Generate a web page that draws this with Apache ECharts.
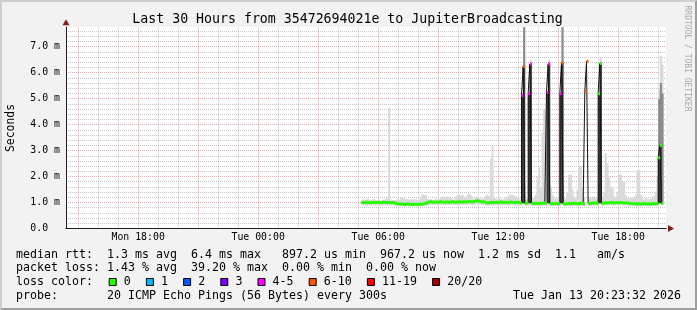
<!DOCTYPE html>
<html><head><meta charset="utf-8">
<script src="https://cdn.jsdelivr.net/npm/echarts@6/dist/echarts.min.js"></script>
<style>
html,body{margin:0;padding:0;background:#f2f2f2;}
#wrap{position:relative;width:697px;height:310px;}
#c{width:697px;height:310px;}
#frame{position:absolute;left:0;top:0;width:697px;height:310px;box-sizing:border-box;border:2px solid;border-color:#cfcfcf #9e9e9e #9e9e9e #cfcfcf;pointer-events:none;}
</style></head><body>
<div id="wrap"><div id="c"></div><div id="frame"></div></div>
<script>
// ---- time frame (hours since Mon 00:00) ----
const viewStart = 14 + 23/60 + 32/3600;   // Mon 14:23:32
const viewEnd = viewStart + 30;           // Tue 20:23:32
const startHour = 29 + 10/60;             // first sample Tue 05:10
const stepHours = 5/60;                   // 300 s step

const xTickHours = [18, 24, 30, 36, 42];
const xTickLabels = ['Mon 18:00', 'Tue 00:00', 'Tue 06:00', 'Tue 12:00', 'Tue 18:00'];

// ---- median rtt per step (ms) ----
const median = [
1.00,1.00,1.01,1.00,1.00,0.99,1.00,1.01,1.00,1.00,
1.00,0.99,1.00,1.01,1.00,1.00,1.00,0.99,1.00,1.00,
0.97,0.95,0.94,0.93,0.95,0.92,0.93,0.94,0.93,0.92,
0.93,0.92,0.93,0.92,0.93,0.94,0.93,0.95,0.97,1.00,
1.02,1.03,1.02,1.01,1.02,1.01,1.02,1.03,1.02,1.01,
1.02,1.02,1.01,1.02,1.03,1.02,1.01,1.02,1.03,1.02,
1.02,1.03,1.02,1.03,1.04,1.03,1.02,1.04,1.06,1.07,
1.05,1.04,1.02,1.03,1.00,0.98,0.99,1.00,1.01,1.00,
1.01,1.00,1.01,1.02,1.01,1.00,1.01,1.00,1.01,1.02,
1.01,1.00,1.00,1.01,1.00,0.99,5.12,6.24,0.97,0.98,
5.19,6.33,0.97,0.96,0.97,0.96,0.97,0.96,0.97,0.98,
0.97,5.24,6.33,0.95,0.96,0.95,0.96,0.95,0.96,5.19,
6.37,0.95,0.94,0.95,0.96,0.95,0.96,0.97,0.96,0.95,
0.96,0.97,0.96,0.95,5.28,6.44,0.96,0.97,0.98,0.97,
0.98,0.97,5.19,6.35,0.97,0.98,0.99,0.98,0.99,1.00,
0.99,0.98,0.99,1.00,0.99,1.00,0.99,0.98,0.99,0.98,
0.97,0.96,0.95,0.96,0.95,0.94,0.95,0.94,0.95,0.96,
0.95,0.94,0.95,0.94,0.95,0.96,0.95,0.96,2.72,3.20,
0.97];

// ---- fastest / slowest ping per step (ms) ----
const pingMin = [
0.89,0.90,0.89,0.88,0.90,0.89,0.90,0.89,0.88,0.90,
0.89,0.90,0.89,0.90,0.88,0.89,0.90,0.89,0.90,0.89,
0.88,0.87,0.86,0.86,0.87,0.85,0.86,0.86,0.85,0.86,
0.85,0.86,0.85,0.86,0.86,0.87,0.86,0.87,0.88,0.89,
0.90,0.91,0.90,0.90,0.91,0.90,0.91,0.90,0.91,0.90,
0.91,0.90,0.90,0.91,0.90,0.91,0.90,0.91,0.90,0.91,
0.90,0.91,0.90,0.91,0.92,0.91,0.90,0.91,0.92,0.93,
0.92,0.91,0.90,0.91,0.89,0.88,0.89,0.89,0.90,0.89,
0.90,0.89,0.90,0.90,0.89,0.90,0.89,0.90,0.89,0.90,
0.90,0.89,0.89,0.90,0.89,0.88,0.95,0.95,0.88,0.88,
0.95,0.95,0.88,0.87,0.88,0.87,0.88,0.87,0.88,0.88,
0.88,0.95,0.95,0.86,0.87,0.86,0.87,0.86,0.87,0.95,
0.95,0.86,0.86,0.86,0.87,0.86,0.87,0.88,0.87,0.86,
0.87,0.88,0.87,0.86,5.28,6.44,0.87,0.88,0.89,0.88,
0.89,0.88,0.95,0.95,0.88,0.89,0.90,0.89,0.90,0.90,
0.90,0.89,0.90,0.90,0.90,0.90,0.90,0.89,0.90,0.89,
0.88,0.87,0.86,0.87,0.86,0.85,0.86,0.85,0.86,0.87,
0.86,0.85,0.86,0.85,0.86,0.87,0.86,0.87,0.95,0.95,
0.90];

const pingMax = [
1.12,1.14,1.10,1.15,1.13,1.10,1.12,1.14,1.10,1.09,
1.11,1.08,1.10,1.12,1.15,1.20,4.65,1.12,1.10,1.08,
1.10,1.15,1.12,1.18,1.19,1.16,1.12,1.14,1.10,1.12,
1.14,1.12,1.13,1.10,1.12,1.20,1.31,1.28,1.31,1.15,
1.12,1.14,1.10,1.12,1.15,1.12,1.14,1.20,1.24,1.22,
1.18,1.24,1.20,1.16,1.14,1.12,1.22,1.28,1.31,1.25,
1.30,1.22,1.18,1.30,1.35,1.28,1.16,1.14,1.20,1.22,
1.18,1.15,1.14,1.18,1.26,1.30,1.24,2.70,3.17,1.20,
1.15,1.12,1.18,1.14,1.12,1.15,1.20,1.22,1.28,1.30,
1.30,1.26,1.24,1.18,1.15,1.12,5.20,7.80,1.12,1.15,
5.25,6.50,1.15,1.18,1.30,2.00,2.35,1.60,3.70,4.58,
4.58,5.30,6.50,1.60,1.30,1.20,1.15,1.18,1.22,5.25,
7.80,1.20,1.15,1.40,2.08,2.08,1.50,1.20,1.18,1.50,
2.40,2.40,1.60,1.20,5.28,6.44,1.20,1.15,1.18,1.22,
1.15,1.20,5.25,6.55,1.20,1.40,2.90,2.50,1.95,1.60,
1.55,1.25,1.18,1.40,2.08,2.08,1.80,1.80,1.30,1.18,
1.15,1.20,1.14,1.18,1.30,2.24,2.24,1.30,1.15,1.12,
1.18,1.14,1.12,1.15,1.20,1.25,1.40,2.00,5.30,6.65,
6.30];

// dense smoke [step, low ms, high ms]
const midSmoke = [[97,6.24,7.80],[120,6.37,7.80],[178,2.72,5.00],[179,3.20,5.60],[180,1.02,5.20]];
const darkSmoke = [[96,0.97,5.12],[97,0.97,6.24],[100,0.97,5.19],[101,0.97,6.33],
  [111,0.97,5.24],[112,0.97,6.33],[119,0.97,5.19],[120,0.97,6.37],
  [142,0.97,5.19],[143,0.97,6.35],[178,0.97,2.72],[179,0.97,3.20]];

// lost pings (out of 20) per step, all other steps 0
const lossEvents = [[96,4],[97,8],[100,5],[101,5],[111,4],[112,5],[119,5],[120,7],[134,6],[135,7]];

const lossCats = [
  {name:'0', lo:0, hi:0, color:'#26ff00'},
  {name:'1', lo:1, hi:1, color:'#00b8ff'},
  {name:'2', lo:2, hi:2, color:'#0059ff'},
  {name:'3', lo:3, hi:3, color:'#7e00ff'},
  {name:'4-5', lo:4, hi:5, color:'#ff00ff'},
  {name:'6-10', lo:6, hi:10, color:'#ff5500'},
  {name:'11-19', lo:11, hi:19, color:'#ff0000'},
  {name:'20/20', lo:20, hi:20, color:'#a10000'}
];

const titleText = 'Last 30 Hours from 35472694021e to JupiterBroadcasting';
const legendRows = [
  'median rtt:  1.3 ms avg  6.4 ms max   897.2 us min  967.2 us now  1.2 ms sd  1.1   am/s',
  'packet loss: 1.43 % avg  39.20 % max  0.00 % min  0.00 % now',
  'loss color:',
  'probe:       20 ICMP Echo Pings (56 Bytes) every 300s'
];
const stampText = 'Tue Jan 13 20:23:32 2026';

// ---------------------------------------------------------------
const N = median.length;
const t = i => startHour + i * stepHours;
const MONO = '"DejaVu Sans Mono", monospace';

const lossAt = new Array(N).fill(0);
lossEvents.forEach(([i, n]) => { lossAt[i] = n; });
const catOf = n => lossCats.findIndex(c => n >= c.lo && n <= c.hi);

function renderBand(params, api) {
  const a = api.coord([api.value(0), api.value(3)]);
  const b = api.coord([api.value(1), api.value(2)]);
  return {type:'rect', shape:{x:a[0], y:a[1], width:b[0]-a[0]+0.4, height:b[1]-a[1]},
          style:{fill: api.visual('color')}};
}
function bandSeries(name, data, color, z) {
  return {type:'custom', name, data, z, clip:true, silent:true, animation:false,
          itemStyle:{color}, encode:{x:[0,1], y:[2,2]}, renderItem: renderBand};
}
function renderLoss(params, api) {
  const p0 = api.coord([api.value(0), api.value(2)]);
  const p1 = api.coord([api.value(1), api.value(2)]);
  return {type:'line', shape:{x1:p0[0], y1:p0[1], x2:p1[0]+0.3, y2:p1[1]},
          style:{stroke: api.visual('color'), lineWidth:3, fill:null, lineCap:'butt'}};
}

const lightData = median.map((_, i) => [t(i), t(i+1), pingMin[i], pingMax[i]]);
const midData = midSmoke.map(([i, lo, hi]) => [t(i), t(i+1), lo, hi]);
const darkData = darkSmoke.map(([i, lo, hi]) => [t(i), t(i+1), lo, hi]);

const medianLine = median.map((v, i) => [t(i), v]);
medianLine.push([t(N), median[N-1]]);

const lossSeries = lossCats.map((c, ci) => {
  const data = [];
  for (let i = 0; i < N; i++) {
    if (catOf(lossAt[i]) === ci) data.push([t(i), t(i+1), median[i]]);
  }
  return {type:'custom', name:c.name, data, z:5, clip:true, silent:true, animation:false,
          itemStyle:{color:c.color}, encode:{x:[0,1], y:2}, renderItem: renderLoss};
});

// grid lines
const minorGrid = 'rgba(143,143,143,0.5)';
const majorGrid = 'rgba(222,79,79,0.5)';
const gridLines = [];
for (let h = Math.ceil(viewStart); h <= Math.floor(viewEnd); h++) {
  gridLines.push({xAxis:h, lineStyle:{color: h % 3 === 0 ? majorGrid : minorGrid, type:[1,1], width:1}});
}
for (let k = 1; k <= 38; k++) {
  gridLines.push({yAxis:k/5, lineStyle:{color: k % 5 === 0 ? majorGrid : minorGrid, type:[1,1], width:1}});
}

const axisFont = {fontFamily: MONO, fontSize: 9.85, color:'#000'};
const labelFor = v => {
  const i = xTickHours.findIndex(h => Math.abs(h - v) < 1e-6);
  return i >= 0 ? xTickLabels[i] : '';
};

const chart = echarts.init(document.getElementById('c'), null, {width:697, height:310});
chart.setOption({
  animation:false,
  backgroundColor:'#f2f2f2',
  grid:{left:66, top:27.2, width:600, height:201.3, show:true, backgroundColor:'#ffffff', borderWidth:0},
  xAxis:[
    {type:'value', min:viewStart, max:viewEnd, position:'bottom', z:10,
     axisLine:{show:true, onZero:false, lineStyle:{color:'#1f1f1f', width:1}},
     axisTick:{show:false}, splitLine:{show:false},
     axisLabel:Object.assign({customValues:xTickHours, formatter:labelFor, margin:4}, axisFont)},
    {type:'value', min:viewStart, max:viewEnd, position:'bottom', z:9,
     axisLine:{show:true, onZero:false, symbol:['none','triangle'], symbolSize:[7,6], symbolOffset:[0,5],
               lineStyle:{color:'#801f1f', width:1}},
     axisTick:{show:false}, axisLabel:{show:false}, splitLine:{show:false}}
  ],
  yAxis:[
    {type:'value', min:0, max:7.75, interval:1, position:'left', z:10,
     axisLine:{show:true, onZero:false, lineStyle:{color:'#1f1f1f', width:1}},
     axisTick:{show:false}, splitLine:{show:false},
     axisLabel:Object.assign({showMaxLabel:false, margin:6,
        formatter: v => v === 0 ? '0.0  ' : v.toFixed(1) + ' m'}, axisFont)},
    {type:'value', min:0, max:7.75, position:'left', z:9,
     axisLine:{show:true, onZero:false, symbol:['none','triangle'], symbolSize:[7,6], symbolOffset:[0,5],
               lineStyle:{color:'#801f1f', width:1}},
     axisTick:{show:false}, axisLabel:{show:false}, splitLine:{show:false}}
  ],
  legend:{
    data: lossCats.map(c => ({name:c.name, itemStyle:{color:c.color, borderColor:'#000', borderWidth:1}})),
    left:108.7, top:276, padding:0, itemWidth:7, itemHeight:7, itemGap:15.1, icon:'rect',
    selectedMode:false,
    textStyle:{fontFamily:MONO, fontSize:11.63, color:'#000', padding:[0,0,0,2.6]}
  },
  series:[
    {type:'line', name:'grid', data:[[viewStart, 0]], showSymbol:false, silent:true, z:1,
     lineStyle:{opacity:0},
     markLine:{silent:true, symbol:['none','none'], label:{show:false}, z:1, animation:false, data:gridLines}},
    bandSeries('smoke', lightData, '#d9d9d9', 2),
    bandSeries('smoke-mid', midData, '#8a8a8a', 3),
    bandSeries('smoke-dense', darkData, '#383838', 3),
    {type:'line', name:'median', data:medianLine, step:'end', showSymbol:false, silent:true, z:4,
     lineStyle:{color:'#111', width:1}},
    ...lossSeries
  ],
  graphic:[
    {type:'text', x:347.5, y:19.5, style:{text:titleText, font:'13.24px ' + MONO, fill:'#000',
      align:'center', verticalAlign:'middle', textAlign:'center', textVerticalAlign:'middle'}},
    {type:'text', x:11, y:128, rotation:Math.PI/2, style:{text:'Seconds', font:'11.4px ' + MONO, fill:'#000',
      align:'center', verticalAlign:'middle', textAlign:'center', textVerticalAlign:'middle'}},
    {type:'text', x:687, y:58.5, rotation:-Math.PI/2, style:{text:'RRDTOOL / TOBI OETIKER', font:'8px ' + MONO, fill:'#a8a8a8',
      align:'center', verticalAlign:'middle', textAlign:'center', textVerticalAlign:'middle'}},
    {type:'text', x:16, y:254.5, style:{text:legendRows[0], font:'11.63px ' + MONO, fill:'#000', align:'left', verticalAlign:'middle', textAlign:'left', textVerticalAlign:'middle'}},
    {type:'text', x:16, y:268.4, style:{text:legendRows[1], font:'11.63px ' + MONO, fill:'#000', align:'left', verticalAlign:'middle', textAlign:'left', textVerticalAlign:'middle'}},
    {type:'text', x:16, y:282.4, style:{text:legendRows[2], font:'11.63px ' + MONO, fill:'#000', align:'left', verticalAlign:'middle', textAlign:'left', textVerticalAlign:'middle'}},
    {type:'text', x:16, y:296.3, style:{text:legendRows[3], font:'11.63px ' + MONO, fill:'#000', align:'left', verticalAlign:'middle', textAlign:'left', textVerticalAlign:'middle'}},
    {type:'text', x:681, y:296.3, style:{text:stampText, font:'11.63px ' + MONO, fill:'#000', align:'right', verticalAlign:'middle', textAlign:'right', textVerticalAlign:'middle'}}
  ]
});
</script></body></html>
